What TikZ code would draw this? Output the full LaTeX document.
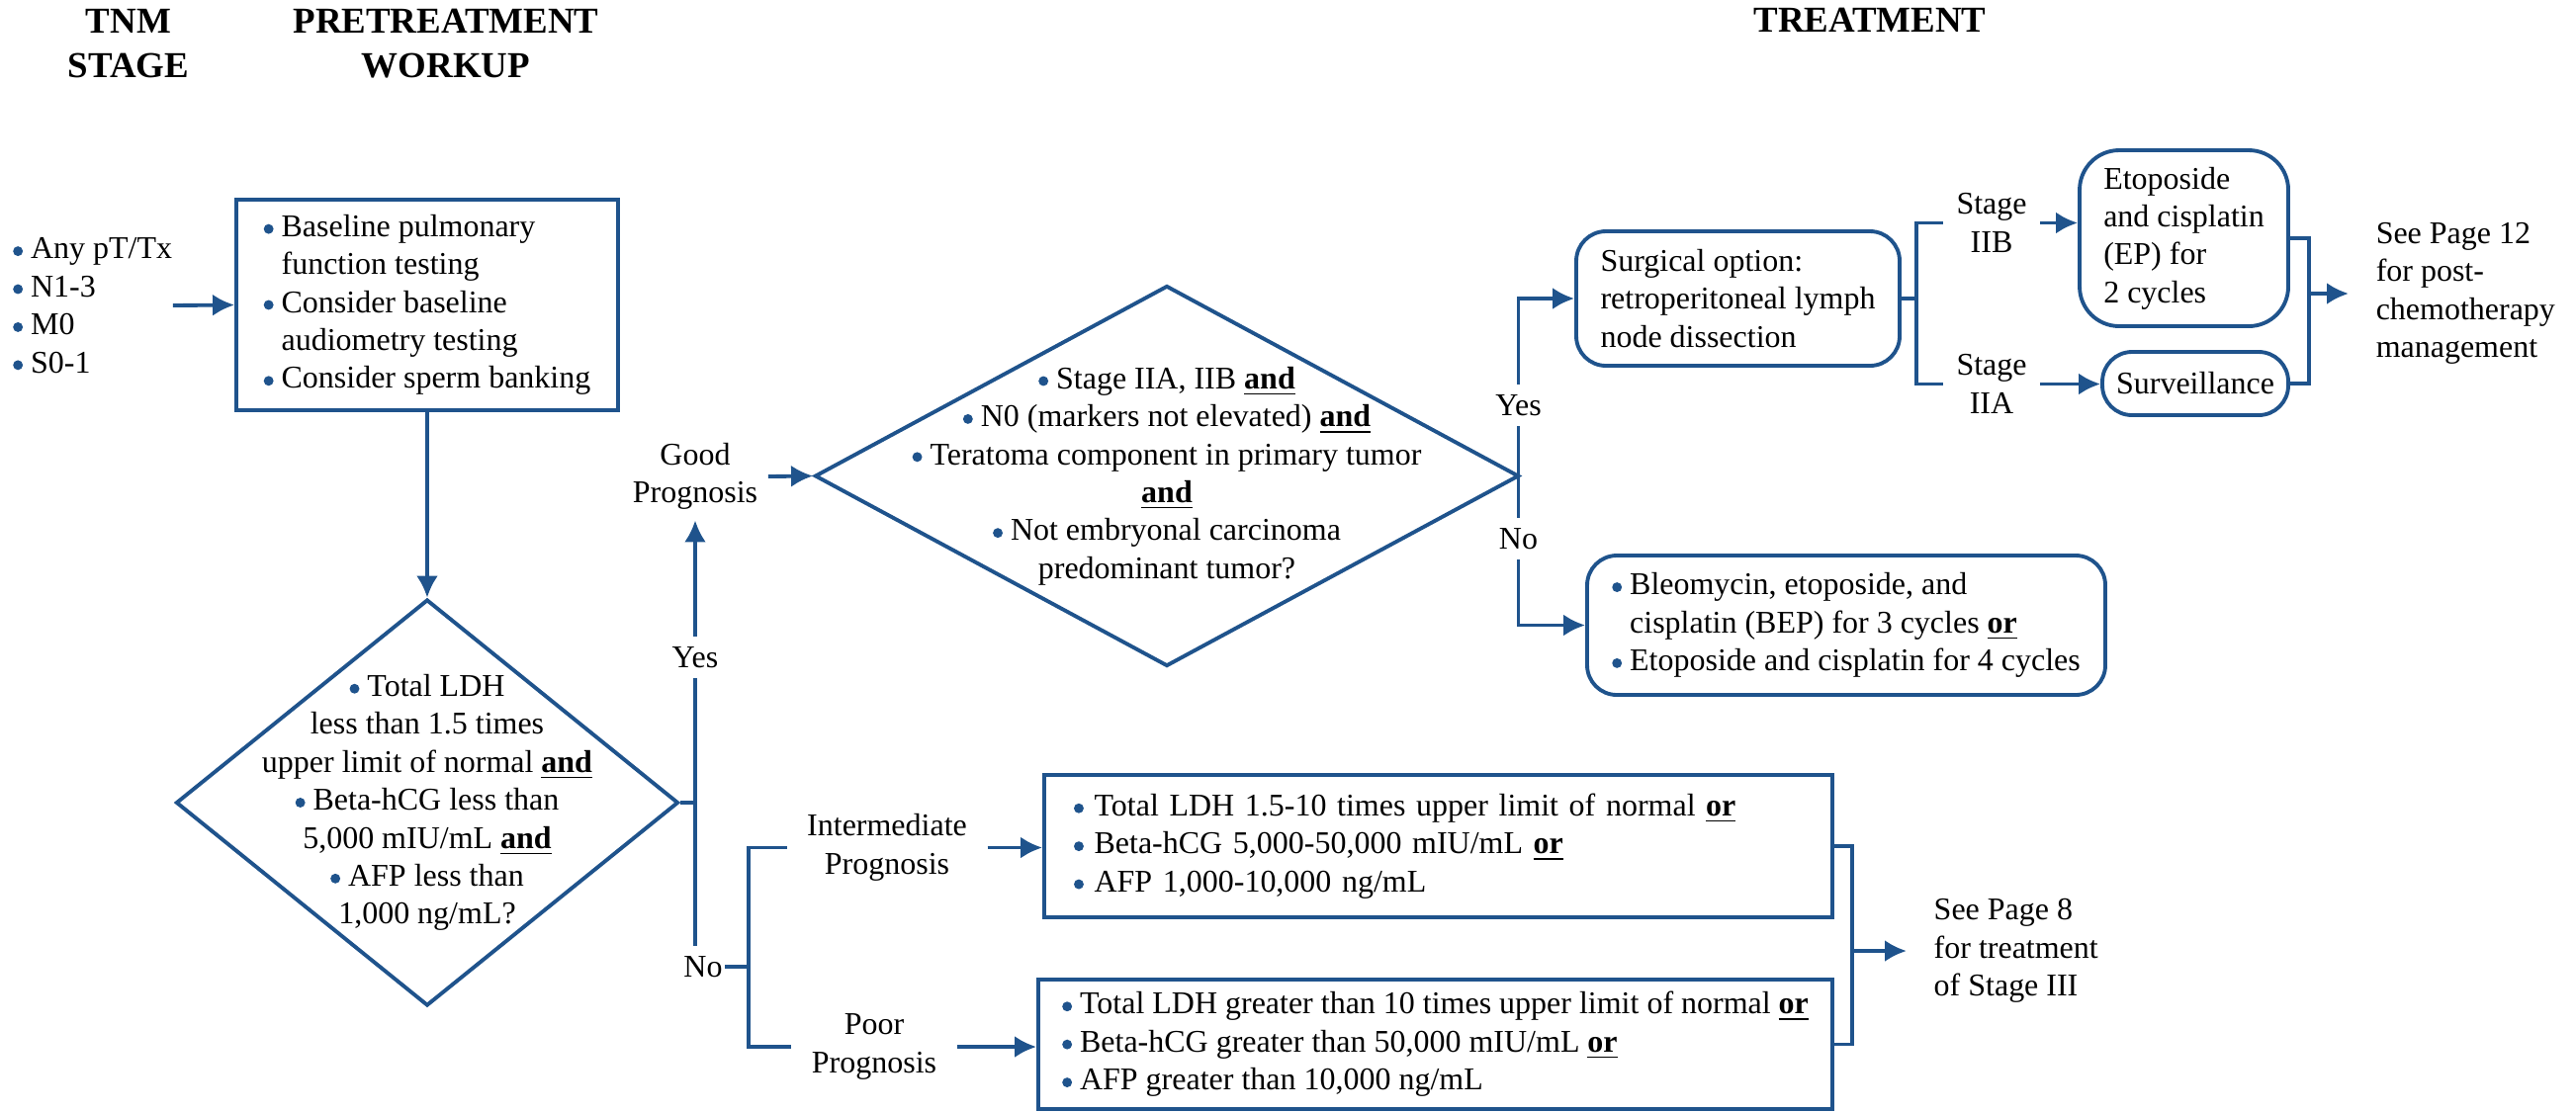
\documentclass[tikz,border=0pt]{standalone}
\usepackage{fontspec}
\setmainfont{Liberation Serif}
\usepackage{tikz}
\usetikzlibrary{arrows.meta,positioning,calc,shapes.geometric}

\definecolor{nccnblue}{RGB}{31,83,140}
\newcommand{\bodyfont}{\fontsize{9.1}{10.93}\selectfont}
\newcommand{\headfont}{\fontsize{10.5}{12.8}\selectfont\bfseries}
\newcommand{\bul}{\tikz[baseline=0pt]\fill[nccnblue] (0,0.24em) circle (0.155em);\ }
\newcommand{\ind}{\phantom{\bul}}
\newcommand{\und}[1]{\textbf{\underline{#1}}}

\begin{document}
\begin{tikzpicture}[
  box/.style={draw=nccnblue, line width=1.1pt, align=left, font=\bodyfont, inner sep=0pt},
  rbox/.style={box, rounded corners=0.3cm},
  dec/.style={diamond, draw=nccnblue, line width=1.1pt, inner sep=0pt},
  lbl/.style={align=center, font=\bodyfont, inner xsep=0.1cm, inner ysep=0.1cm},
  note/.style={align=left, font=\bodyfont, inner xsep=0.27cm, anchor=west},
  head/.style={align=center, font=\headfont},
  lnk/.style={draw=nccnblue, line width=1.1pt},
  arr/.style={lnk, -{Latex[length=2.2mm,width=2.2mm]}}
]
\path[use as bounding box, fill=white] (0,0) rectangle (26.05,-11.25);

\node[head] (htnm) at (1.30,-0.443) {TNM\\STAGE};
\node[head] (hpre) at (4.51,-0.445) {PRETREATMENT\\WORKUP};
\node[head] (htreat) at (18.91,-0.20) {TREATMENT};

\node[lbl, align=left, anchor=west, inner xsep=0pt] (tnm) at (0.125,-3.09) {\bul Any pT/Tx\\\bul N1-3\\\bul M0\\\bul S0-1};
\node[box, minimum width=3.86cm, minimum height=2.13cm] (wkp) at (4.32,-3.085) {\bul Baseline pulmonary\\\ind function testing\\\bul Consider baseline\\\ind audiometry testing\\\bul Consider sperm banking};

\node[dec, minimum width=5.08cm, minimum height=4.11cm] (q1) at (4.32,-8.12) {};
\node[lbl, inner sep=0pt] (q1txt) at (q1) {\bul Total LDH\\less than 1.5 times\\upper limit of normal \und{and}\\\bul Beta-hCG less than\\5,000 mIU/mL \und{and}\\\bul AFP less than\\1,000 ng/mL?};

\node[lbl] (yes1) at (7.03,-6.65) {Yes};
\node[lbl, inner xsep=0.02cm] (no1) at (7.11,-9.78) {No};
\node[lbl] (good) at (7.03,-4.82) {Good\\Prognosis};

\node[dec, minimum width=7.12cm, minimum height=3.85cm] (q2) at (11.80,-4.815) {};
\node[lbl, inner sep=0pt] (q2txt) at (q2) {\bul Stage IIA, IIB \und{and}\\\bul N0 (markers not elevated) \und{and}\\\bul Teratoma component in primary tumor\\\und{and}\\\bul Not embryonal carcinoma\\predominant tumor?};

\node[lbl] (yes2) at (15.355,-4.10) {Yes};
\node[lbl] (no2) at (15.355,-5.45) {No};

\node[rbox, minimum width=3.27cm, minimum height=1.36cm] (surg) at (17.575,-3.02) {Surgical option:\\retroperitoneal lymph\\node dissection};
\node[lbl, inner xsep=0.13cm] (stIIB) at (20.14,-2.255) {Stage\\IIB};
\node[lbl, inner xsep=0.13cm] (stIIA) at (20.14,-3.885) {Stage\\IIA};
\node[rbox, rounded corners=0.4cm, minimum width=2.11cm, minimum height=1.78cm] (ep) at (22.085,-2.41) {Etoposide\\and cisplatin\\(EP) for\\2 cycles};
\node[rbox, minimum width=1.88cm, minimum height=0.64cm] (surv) at (22.20,-3.88) {Surveillance};
\node[note] (pg12) at (23.75,-2.97) {See Page 12\\for post-\\chemotherapy\\management};

\node[rbox, minimum width=5.24cm, minimum height=1.41cm] (bep) at (18.67,-6.325) {\bul Bleomycin, etoposide, and\\\ind cisplatin (BEP) for 3 cycles \und{or}\\\bul Etoposide and cisplatin for 4 cycles};

\node[lbl, inner xsep=0.2cm] (interm) at (8.97,-8.575) {Intermediate\\Prognosis};
\node[lbl, inner xsep=0.2cm] (poor) at (8.84,-10.59) {Poor\\Prognosis};
\node[box, text width=7.37cm, inner xsep=0.3cm, minimum height=1.44cm] (intbox) at (14.545,-8.56) {\bul Total LDH 1.5-10 times upper limit of normal \und{or}\\\bul Beta-hCG 5,000-50,000 mIU/mL \und{or}\\\bul AFP 1,000-10,000 ng/mL};
\node[box, minimum width=8.03cm, minimum height=1.31cm] (poorbox) at (14.515,-10.565) {\bul Total LDH greater than 10 times upper limit of normal \und{or}\\\bul Beta-hCG greater than 50,000 mIU/mL \und{or}\\\bul AFP greater than 10,000 ng/mL};
\node[note] (pg8) at (19.28,-9.62) {See Page 8\\for treatment\\of Stage III};

\coordinate (brk) at (7.57,-9.78);
\coordinate (j1) at (19.38,-3.02);
\coordinate (j2) at (23.35,-2.97);
\coordinate (j3) at (18.73,-9.62);

\draw[arr] (tnm.east) -- (wkp.west);
\draw[arr] (wkp.south) -- (q1.north);
\draw[lnk] (q1.east) -- (q1.east -| yes1);
\draw[lnk] (yes1.south) -- (yes1.south |- no1.north);
\draw[arr] (yes1.north) -- (good.south);
\draw[arr] (good.east) -- (q2.west);
\draw[lnk] (no1.east) -- (brk);
\draw[lnk] (interm.west) -| (brk) |- (poor.west);
\draw[arr] (interm.east) -- (interm.east -| intbox.west);
\draw[arr] (poor.east) -- (poor.east -| poorbox.west);
\draw[lnk] (intbox.east) -| (j3) |- (poorbox.east);
\draw[arr] (j3) -- (pg8.west);

\draw[arr] (yes2.north) |- (surg.west);
\draw[lnk] (yes2.south) -- (yes2.south |- no2.north);
\draw[arr] (no2.south) |- (bep.west);
\draw[lnk] (surg.east) -- (j1);
\draw[lnk] (stIIB.west) -| (j1) |- (stIIA.west);
\draw[arr] (stIIB.east) -- (stIIB.east -| ep.west);
\draw[arr] (stIIA.east) -- (stIIA.east -| surv.west);
\draw[lnk] (ep.east) -| (j2) |- (surv.east);
\draw[arr] (j2) -- (pg12.west);

\end{tikzpicture}
\end{document}
